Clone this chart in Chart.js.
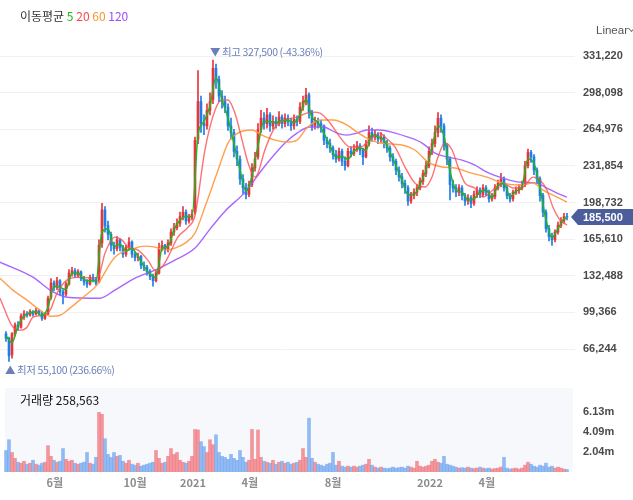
<!DOCTYPE html>
<html><head><meta charset="utf-8">
<script src="https://cdn.jsdelivr.net/npm/chart.js@4.4.1/dist/chart.umd.min.js"></script>
<style>
html,body{margin:0;padding:0;background:#fff;width:633px;height:500px;overflow:hidden;font-family:"Noto Sans CJK KR","Noto Sans",sans-serif;}
canvas{position:absolute;left:0;}
#c1{top:0;}
#c2{top:386px;}
.txt{position:absolute;white-space:nowrap;font-size:12px;line-height:14px;}
#lg{left:20px;top:9px;color:#333;}
#lin{left:596px;top:23px;color:#555;font-size:11.5px;font-family:"Liberation Sans",Arial,sans-serif;}
#chev{position:absolute;left:629px;top:26px;width:4px;height:4px;border-right:1px solid #777;border-bottom:1px solid #777;transform:rotate(45deg);}
#vt{left:20px;top:393px;color:#111;}
</style></head>
<body>
<canvas id="c1" width="633" height="386"></canvas>
<canvas id="c2" width="633" height="114"></canvas>
<div class="txt" id="lg">이동평균 <span style="color:#1fb81f">5</span> <span style="color:#ff4646">20</span> <span style="color:#ff9330">60</span> <span style="color:#9a4dff">120</span></div>
<div class="txt" id="lin">Linear</div><div id="chev"></div>
<div class="txt" id="vt">거래량 258,563</div>
<script>
// ---- data (prices in won, one candle per ~3 trading days) ----
const open = [80000,76000,61000,80000,88000,86000,95000,98000,97000,100000,98000,101000,99000,94000,98000,113000,126000,122000,128000,118000,116000,125000,135000,137000,133000,136000,130000,127000,125000,131000,129000,127000,162000,192000,178000,170000,160000,157000,165000,158000,152000,158000,163000,152000,149000,150000,142000,140000,136000,132000,128000,135000,158000,160000,156000,162000,172000,176000,180000,186000,190000,182000,185000,190000,256000,290000,270000,268000,282000,292000,320000,310000,295000,290000,285000,268000,262000,245000,238000,220000,212000,206000,215000,230000,240000,265000,275000,270000,278000,268000,272000,270000,276000,270000,275000,272000,268000,274000,272000,285000,290000,296000,280000,268000,272000,270000,268000,255000,252000,248000,242000,238000,245000,236000,232000,245000,243000,247000,250000,246000,240000,252000,262000,258000,260000,256000,258000,252000,248000,240000,236000,228000,222000,216000,212000,200000,205000,208000,212000,218000,225000,232000,245000,252000,262000,275000,268000,250000,238000,215000,212000,208000,212000,205000,200000,203000,198000,206000,210000,206000,212000,208000,202000,204000,212000,216000,220000,212000,205000,202000,208000,210000,212000,215000,232000,244000,240000,228000,220000,205000,190000,175000,168000,165000,172000,178000,182000,186000];
const high = [82000,77000,81000,90000,91000,98000,101000,100000,102000,101000,103000,102000,100000,99000,114000,130000,128000,131000,129000,120000,127000,138000,140000,139000,138000,137000,132000,129000,133000,134000,131000,165000,198000,195000,182000,172000,163000,168000,166000,160000,160000,167000,164000,154000,153000,151000,145000,142000,138000,134000,137000,162000,164000,161000,165000,175000,180000,184000,190000,195000,192000,188000,192000,258000,318000,295000,278000,288000,298000,327500,324000,313000,300000,295000,288000,275000,265000,250000,241000,224000,216000,218000,234000,244000,270000,282000,280000,284000,280000,277000,276000,281000,278000,279000,278000,275000,278000,277000,289000,295000,302000,298000,282000,276000,275000,273000,269000,258000,256000,250000,246000,248000,247000,240000,248000,249000,251000,254000,252000,248000,255000,268000,266000,264000,262000,262000,260000,255000,250000,243000,238000,231000,225000,219000,214000,208000,211000,215000,221000,228000,236000,249000,256000,268000,280000,278000,270000,252000,240000,219000,215000,215000,214000,207000,206000,205000,209000,213000,212000,215000,214000,210000,207000,215000,219000,225000,222000,214000,207000,210000,213000,215000,218000,236000,247000,246000,242000,230000,222000,207000,192000,178000,171000,174000,181000,185000,189000,189000];
const low = [73000,55100,58000,78000,83000,85000,93000,95000,96000,96000,97000,97000,92000,93000,97000,111000,119000,120000,115000,107000,114000,124000,132000,131000,131000,128000,124000,122000,124000,127000,124000,126000,158000,172000,165000,155000,152000,155000,155000,149000,150000,156000,149000,146000,146000,139000,137000,133000,129000,123000,127000,134000,155000,152000,154000,160000,169000,174000,177000,183000,179000,180000,183000,188000,252000,262000,260000,265000,278000,288000,302000,290000,284000,280000,264000,256000,240000,232000,215000,207000,202000,204000,213000,227000,238000,262000,265000,266000,263000,265000,266000,268000,266000,267000,268000,264000,265000,268000,270000,282000,287000,275000,264000,265000,266000,262000,251000,248000,244000,238000,235000,236000,232000,228000,231000,240000,241000,245000,242000,233000,239000,250000,254000,255000,252000,253000,248000,244000,236000,232000,224000,218000,212000,207000,196000,198000,202000,205000,210000,215000,222000,230000,242000,249000,258000,262000,246000,233000,201000,208000,204000,205000,201000,196000,197000,194000,196000,203000,203000,204000,205000,199000,200000,202000,210000,213000,209000,202000,199000,200000,206000,207000,210000,213000,230000,235000,224000,216000,200000,186000,172000,164000,160000,163000,170000,176000,180000,183000];
const close = [76000,60000,80000,88000,86000,96000,98000,97000,100000,98000,101000,99000,94000,98000,112000,126000,122000,128000,118000,115000,125000,135000,137000,133000,136000,130000,127000,125000,131000,129000,126000,160000,192000,178000,170000,160000,157000,165000,158000,152000,158000,163000,152000,149000,150000,142000,140000,136000,132000,128000,135000,158000,160000,156000,162000,172000,176000,180000,186000,190000,182000,185000,188000,255000,290000,270000,268000,282000,290000,320000,310000,295000,290000,285000,268000,262000,245000,238000,220000,212000,206000,215000,230000,238000,265000,275000,270000,278000,268000,272000,270000,276000,270000,275000,272000,268000,274000,272000,285000,290000,296000,280000,268000,272000,270000,268000,255000,252000,248000,242000,238000,245000,236000,232000,245000,243000,247000,250000,246000,240000,252000,262000,258000,260000,256000,258000,252000,248000,240000,236000,228000,222000,216000,212000,200000,205000,208000,212000,218000,225000,232000,245000,252000,262000,275000,268000,250000,238000,215000,212000,208000,212000,205000,200000,203000,198000,206000,210000,206000,212000,208000,202000,204000,212000,216000,220000,212000,205000,202000,208000,210000,212000,215000,232000,244000,240000,228000,220000,205000,190000,175000,168000,165000,172000,178000,182000,186000,185500];
// volume in millions of shares
const volume = [2.2,3.3,2.0,1.4,1.0,0.9,1.1,0.8,0.9,1.2,0.8,0.7,0.9,1.0,2.7,1.6,1.2,1.0,1.1,2.4,1.3,1.1,1.2,0.9,0.8,0.9,1.0,2.0,0.9,0.8,1.5,6.1,5.9,3.4,1.8,1.5,2.0,1.6,1.7,1.1,0.9,1.2,0.8,0.7,0.9,0.6,0.7,0.8,0.9,1.0,2.2,1.4,0.9,1.0,1.6,2.4,1.8,2.0,1.2,1.0,0.9,1.1,1.6,4.35,4.3,3.1,2.6,2.0,3.3,2.8,3.8,2.0,1.6,1.5,1.3,1.8,1.4,1.2,2.2,1.5,1.0,1.2,4.35,1.3,4.3,1.5,1.1,1.0,0.9,1.2,0.8,1.0,1.1,0.9,1.0,0.8,0.9,1.0,1.2,2.4,1.5,5.5,1.4,1.0,0.8,0.7,0.6,0.8,0.9,2.0,0.7,1.1,0.6,0.5,0.6,0.5,0.6,0.5,0.6,0.7,0.8,1.3,0.7,0.5,0.4,0.5,0.4,0.35,0.4,0.5,0.4,0.45,0.5,0.4,0.6,0.5,0.4,1.1,0.6,0.5,0.6,0.7,1.1,1.3,1.0,0.9,1.6,0.8,0.7,0.6,0.5,0.4,0.45,0.4,0.5,0.4,0.35,0.4,0.5,0.4,0.35,0.4,0.3,0.35,0.4,0.5,1.5,0.4,0.3,0.35,0.4,0.3,0.4,0.7,1.0,0.8,0.6,0.5,0.7,0.6,0.9,0.5,0.6,0.4,0.5,0.4,0.3,0.258563];
// moving averages: [candle position, value]
const ma5 = [[0,78000],[2,72000],[4,87000],[6,96000],[8,99000],[10,100000],[12,96000],[14,104000],[16,123000],[18,122000],[20,120000],[22,135000],[24,135000],[26,129000],[28,128000],[30,128000],[32,172000],[34,175000],[36,159000],[38,161000],[40,155000],[42,157000],[44,150000],[46,141000],[48,134000],[50,131000],[52,157000],[54,159000],[56,174000],[58,183000],[60,186000],[62,186000],[64,260000],[66,272000],[68,286000],[70,312000],[72,292000],[74,275000],[76,252000],[78,228000],[80,209000],[82,222000],[84,250000],[86,272000],[88,272000],[90,271000],[92,273000],[94,273000],[96,271000],[98,278000],[100,292000],[102,276000],[104,271000],[106,261000],[108,250000],[110,240000],[112,240000],[114,238000],[116,245000],[118,248000],[120,246000],[122,260000],[124,258000],[126,255000],[128,244000],[130,232000],[132,219000],[134,206000],[136,206000],[138,215000],[140,228000],[142,248000],[144,268000],[146,259000],[148,227000],[150,210000],[152,208000],[154,201000],[156,202000],[158,208000],[160,210000],[162,203000],[164,214000],[166,216000],[168,204000],[170,209000],[172,213000],[174,238000],[176,234000],[178,212000],[180,183000],[182,167000],[184,175000],[186,184000],[187,185000]];
const ma20 = [[-2,112200],[2.3,86000],[4.7,83300],[7,86000],[9,95000],[12.3,96800],[14.7,101400],[17,116700],[20.3,128500],[24.7,131200],[29,130300],[30.7,131200],[33,152900],[36.3,167400],[38.7,164700],[40.7,158400],[44,155700],[47.3,146600],[49.7,137600],[52,140300],[54,149300],[57.3,167400],[60.7,176500],[63,187000],[66.3,246200],[69.7,282400],[72,291400],[74,291400],[76.3,279600],[78.7,255200],[80.7,234400],[83,221700],[84,225300],[86.3,246200],[89.7,267000],[93,273300],[97,276000],[100.3,279600],[102.3,280500],[104.7,279600],[108,270600],[111.3,257900],[114.7,248900],[118,248900],[121.3,255200],[124.7,261500],[126.3,257900],[129.7,248900],[133,230800],[136.3,216300],[139.7,212700],[142,221700],[144,239800],[146.3,252500],[148.7,246200],[150.7,230800],[153,216300],[156.3,211800],[159,203600],[162.3,210000],[165.7,216300],[169,211800],[172.3,212700],[175.7,221700],[178,219000],[180.3,210000],[182.3,194600],[184.7,182800],[187,178300]];
const ma60 = [[-2,130300],[2.3,119500],[7,110400],[11.3,101400],[14.7,95900],[18,96800],[21.3,103200],[25.7,113100],[30.3,124000],[36.3,149300],[43,157500],[46.3,159300],[49.7,158400],[53,155700],[56.3,157500],[59.7,162000],[63,171000],[66.3,194600],[70.7,228100],[74,252500],[77.3,261500],[82,264300],[85.3,259700],[89.7,255200],[93.7,253400],[97,255200],[100.3,266100],[104.7,273300],[109,273300],[113.7,268800],[117,262400],[120.3,257000],[124.7,252500],[132,250700],[136.3,246200],[140.7,235300],[145.3,230800],[149.7,229900],[154,226200],[160.3,221700],[165.7,216300],[171.3,214500],[175.7,216300],[179,210000],[183.7,203600],[187,199100]];
const ma120 = [[-2,144800],[9,131200],[14.7,119500],[20.3,113100],[31.3,112200],[36.3,119500],[43,130300],[49.7,137600],[56.3,146600],[63,157500],[68,174700],[73,190900],[79.7,208100],[86.3,231700],[93,252500],[97,261500],[101.3,267000],[105.7,267000],[110.3,261500],[113.7,259700],[117,261500],[120.3,264300],[124.7,264300],[129.7,261500],[134,257900],[138.7,252500],[143,243400],[147.3,239800],[152,237100],[156.3,232600],[160.3,226200],[165.7,220800],[171.3,217200],[177,216300],[180.3,211800],[183.7,207200],[187,203600]];
const priceTicks = [66244,99366,132488,165610,198732,231854,264976,298098,331220];
const volTicks = [2.0433,4.0867,6.13];
const xTickPos = [16.3,43,62.3,81.3,109,141.3,160.3];
const xTickLabels = ['6월','10월','2021','4월','8월','2022','4월'];

// ---- styling ----
const RED = '#e8353a', BLUE = '#1f7ee6';
const VRED = 'rgba(240,112,118,0.72)', VBLUE = 'rgba(105,162,240,0.72)';
const X_MIN = -2, X_MAX = 189.67;
const Y_MIN = 33688, Y_MAX = 345690;
const fmt = v => v.toLocaleString('en-US');
const up = close.map((c,i)=> c >= open[i]);

const ptsOf = arr => arr.map(([x,y]) => ({x, y}));
const lineDs = (arr, color, order, w) => ({type:'line', data: ptsOf(arr), borderColor: color, borderWidth: w, pointRadius: 0, cubicInterpolationMode:'monotone', order, fill:false});
const noPad = s => { s.width = 58; s.paddingTop = 0; s.paddingBottom = 0; };

const annotPlugin = {
  id:'annot',
  afterDraw(chart){
    const {ctx, scales:{x, y}} = chart;
    const hiV = Math.max(...high), hiIdx = high.indexOf(hiV);
    const loV = Math.min(...low), loIdx = low.indexOf(loV);
    const last = close[close.length-1];
    ctx.save();
    ctx.font = '10.5px "Noto Sans CJK KR", sans-serif';
    if ('letterSpacing' in ctx) ctx.letterSpacing = '-0.4px';
    ctx.fillStyle = '#6b7fb8';
    ctx.textBaseline = 'middle';
    ctx.textAlign = 'left';
    ctx.fillText('▼ 최고 ' + fmt(hiV) + ' (' + ((last-hiV)/hiV*100).toFixed(2) + '%)', x.getPixelForValue(hiIdx) - 3, y.getPixelForValue(hiV) - 8);
    ctx.fillText('▲ 최저 ' + fmt(loV) + ' (' + ((last-loV)/loV*100).toFixed(2) + '%)', x.getPixelForValue(loIdx) - 4, y.getPixelForValue(loV) + 9);
    if ('letterSpacing' in ctx) ctx.letterSpacing = '0px';
    // current price tag
    const py = Math.round(y.getPixelForValue(last));
    ctx.fillStyle = '#4b5e9b';
    ctx.beginPath();
    ctx.moveTo(571, py);
    ctx.lineTo(578, py - 8);
    ctx.lineTo(633, py - 8);
    ctx.lineTo(633, py + 8);
    ctx.lineTo(578, py + 8);
    ctx.closePath();
    ctx.fill();
    ctx.fillStyle = '#fff';
    ctx.font = 'bold 11px "Liberation Sans", Arial, sans-serif';
    ctx.fillText(fmt(last), 583, py + 0.5);
    ctx.restore();
  }
};

new Chart(document.getElementById('c1'), {
  type:'bar',
  data:{ datasets:[
    lineDs(ma5, '#22b522', 0, 1.5),
    lineDs(ma20, 'rgba(250,80,80,0.8)', 1, 1.4),
    lineDs(ma60, 'rgba(255,150,60,0.9)', 2, 1.4),
    lineDs(ma120, 'rgba(160,85,255,0.9)', 3, 1.4),
    {type:'bar', data: close.map((c,i)=>({x:i, y:[open[i], c]})), backgroundColor: up.map(u=>u?RED:BLUE), barThickness: 2, grouped:false, order: 5},
    {type:'bar', data: close.map((c,i)=>({x:i, y:[low[i], high[i]]})), backgroundColor: up.map(u=>u?RED:BLUE), barThickness: 1, grouped:false, order: 6}
  ]},
  options:{
    responsive:false, animation:false, events:[],
    layout:{padding:{top:40, bottom:1, left:0, right:0}},
    plugins:{legend:{display:false}, tooltip:{enabled:false}},
    scales:{
      x:{type:'linear', min:X_MIN, max:X_MAX, display:false, offset:false, grid:{offset:false}},
      y:{type:'linear', position:'right', min:Y_MIN, max:Y_MAX,
         afterBuildTicks: s => { s.ticks = priceTicks.map(v=>({value:v})); },
         afterFit: noPad,
         grid:{color:'#f1f1f1', drawTicks:false}, border:{display:false},
         ticks:{padding:8, color:'#4a4a4a', font:{family:'"Liberation Sans", Arial, sans-serif', size:11, weight:'bold'}, callback: v => fmt(v)}}
    }
  },
  plugins:[annotPlugin]
});

const volBg = {
  id:'volbg',
  beforeDraw(chart){
    const {ctx, chartArea:a} = chart;
    ctx.save(); ctx.fillStyle = '#f7f8fc';
    ctx.fillRect(a.left + 5, a.top, a.right - a.left - 7, a.bottom - a.top);
    ctx.restore();
  }
};

new Chart(document.getElementById('c2'), {
  type:'bar',
  data:{ datasets:[
    {data: volume.map((v,i)=>({x:i, y:v})), backgroundColor: up.map(u=>u?VRED:VBLUE), barThickness: 3, grouped:false}
  ]},
  options:{
    responsive:false, animation:false, events:[],
    layout:{padding:{top:2, bottom:0, left:0, right:0}},
    plugins:{legend:{display:false}, tooltip:{enabled:false}},
    scales:{
      x:{type:'linear', min:X_MIN, max:X_MAX, offset:false,
         afterBuildTicks: s => { s.ticks = xTickPos.map(v=>({value:v})); },
         afterFit: s => { s.height = 28; s.paddingLeft = 0; s.paddingRight = 0; },
         grid:{display:false, drawTicks:false}, border:{display:false},
         ticks:{autoSkip:false, maxRotation:0, padding:4, color:'#8c8c8c', font:{family:'"Noto Sans CJK KR", sans-serif', size:11, weight:'bold'}, callback:(v,i)=> xTickLabels[i]}},
      y:{type:'linear', position:'right', min:0, max:8.59,
         afterBuildTicks: s => { s.ticks = volTicks.map(v=>({value:v})); },
         afterFit: noPad,
         grid:{display:false, drawTicks:false}, border:{display:false},
         ticks:{padding:8, color:'#4a4a4a', font:{family:'"Liberation Sans", Arial, sans-serif', size:11, weight:'bold'}, callback: v => v.toFixed(2) + 'm'}}
    }
  },
  plugins:[volBg]
});
</script>
</body></html>
